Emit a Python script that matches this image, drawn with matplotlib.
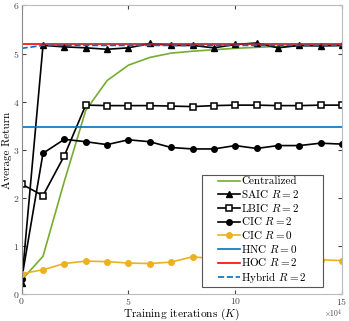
import numpy as np
import matplotlib
matplotlib.use('Agg')
import matplotlib.pyplot as plt
from matplotlib.patches import Rectangle

plt.rcParams['font.family'] = 'serif'
plt.rcParams['font.serif'] = ['cmr10', 'DejaVu Serif']
plt.rcParams['mathtext.fontset'] = 'cm'
plt.rcParams['axes.formatter.use_mathtext'] = True

# training iterations (x 1e4)
iters = np.arange(16) * 1e4

centralized = [0.30, 0.79, 2.35, 3.82, 4.44, 4.76, 4.92, 5.01, 5.05, 5.08, 5.11,
               5.13, 5.15, 5.16, 5.17, 5.17]
saic = [0.23, 5.17, 5.14, 5.12, 5.09, 5.12, 5.21, 5.17, 5.17, 5.12, 5.19,
        5.22, 5.12, 5.17, 5.16, 5.17]
lbic = [2.29, 2.05, 2.88, 3.93, 3.92, 3.92, 3.92, 3.91, 3.90, 3.92, 3.93,
        3.93, 3.92, 3.92, 3.93, 3.93]
cic2 = [0.31, 2.93, 3.22, 3.17, 3.11, 3.21, 3.17, 3.05, 3.02, 3.02, 3.09,
        3.03, 3.09, 3.09, 3.14, 3.12]
cic0 = [0.43, 0.51, 0.64, 0.69, 0.68, 0.65, 0.64, 0.67, 0.78, 0.74, 0.72,
        0.70, 0.72, 0.71, 0.72, 0.70]
hnc = [3.48] * 16
hoc = [5.19] * 16
hybrid = [5.11, 5.17, 5.17, 5.17, 5.17, 5.17, 5.17, 5.17, 5.17, 5.17, 5.17,
          5.17, 5.17, 5.17, 5.17, 5.17]

fig = plt.figure(figsize=(3.49, 3.21), dpi=100)
ax = fig.add_axes([0.062, 0.083, 0.918, 0.9])

ax.plot(iters, centralized, color='#77AC30', lw=1.2, label='Centralized')
ax.plot(iters, saic, color='black', lw=1.2, marker='^', ms=4.5, label='SAIC $R=2$')
ax.plot(iters, lbic, color='black', lw=1.2, marker='s', ms=4.5, mfc='white',
        mew=1.1, label='LBIC $R=2$')
ax.plot(iters, cic2, color='black', lw=1.2, marker='o', ms=4, label='CIC $R=2$')
ax.plot(iters, cic0, color='#EDB120', lw=1.2, marker='o', ms=4, label='CIC $R=0$')
ax.plot(iters, hnc, color='#0072BD', lw=1.2, label='HNC $R=0$')
ax.plot(iters, hoc, color='#FF0000', lw=1.2, label='HOC $R=2$')
ax.plot(iters, hybrid, color='#0072BD', lw=1.2, ls='--', label='Hybrid $R=2$')

ax.set_xlim(0, 15e4)
ax.set_ylim(0, 6)
ax.set_xticks([0, 5e4, 10e4, 15e4])
ax.set_yticks([0, 1, 2, 3, 4, 5, 6])
ax.ticklabel_format(axis='x', style='sci', scilimits=(4, 4))
# offset text drawn by hand so it stays inside the figure
ax.xaxis.get_offset_text().set_visible(False)
ax.text(0.972, -0.067, r'$\times 10^{4}$', transform=ax.transAxes,
        fontsize=5.5, color='#444444', ha='center', va='center')

for side in ['top', 'right', 'bottom']:
    ax.spines[side].set_color('#bbbbbb')
ax.spines['left'].set_color('#888888')
ax.tick_params(direction='in', length=3, labelsize=7, colors='#444444',
               top=True, right=True, pad=1.5)

ax.set_xlabel('Training iterations $(K)$', fontsize=8.2, labelpad=-0.5)
ax.set_ylabel('Average Return', fontsize=8, labelpad=1)

# MATLAB-like legend box: wide side padding, drawn separately
box = Rectangle((0.562, 0.026), 0.379, 0.387, transform=ax.transAxes,
                facecolor='white', edgecolor='#555555', lw=0.8, zorder=4)
ax.add_patch(box)
leg = ax.legend(loc='center', bbox_to_anchor=(0.7515, 0.2195), fontsize=8,
                frameon=False, handlelength=2.0, handletextpad=0.1,
                labelspacing=0.15, borderpad=0)
leg.set_zorder(5)

plt.savefig('out.png', dpi=100)
